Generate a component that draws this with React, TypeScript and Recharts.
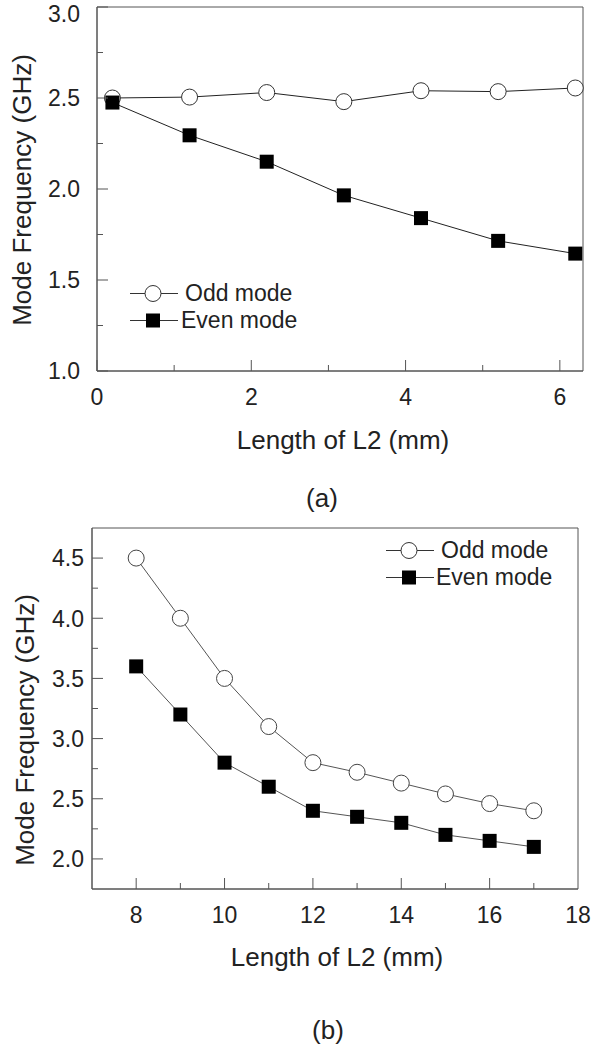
import React from "react"
import { LineChart, Line, XAxis, YAxis, ReferenceArea, Legend } from "recharts"

// (a) mode frequency vs L2, short range
const lengthA = [0.2, 1.2, 2.2, 3.2, 4.2, 5.2, 6.2]
const oddA = [2.5, 2.505, 2.53, 2.48, 2.54, 2.535, 2.555]
const evenA = [2.475, 2.295, 2.15, 1.965, 1.84, 1.715, 1.645]

// (b) mode frequency vs L2, long range
const lengthB = [8, 9, 10, 11, 12, 13, 14, 15, 16, 17]
const oddB = [4.5, 4.0, 3.5, 3.1, 2.8, 2.72, 2.63, 2.54, 2.46, 2.4]
const evenB = [3.6, 3.2, 2.8, 2.6, 2.4, 2.35, 2.3, 2.2, 2.15, 2.1]

const xTicksA = [0, 1, 2, 3, 4, 5, 6]
const yTicksA = [1, 1.25, 1.5, 1.75, 2, 2.25, 2.5, 2.75, 3]
const xTicksB = [8, 9, 10, 11, 12, 13, 14, 15, 16, 17, 18]
const yTicksB = [2, 2.25, 2.5, 2.75, 3, 3.25, 3.5, 3.75, 4, 4.25, 4.5]

const seriesOrder = ["odd", "even"]

const FONT = "'Liberation Sans', Arial, Helvetica, sans-serif"
const TEXT = "#222"
const AXIS = "#555"
const TICK_FONT = 23
const TITLE_FONT = 26

const rowsA = lengthA.map((x, i) => ({ x, odd: oddA[i], even: evenA[i] }))
const rowsB = lengthB.map((x, i) => ({ x, odd: oddB[i], even: evenB[i] }))

const isMajorX = (v: number) => v % 2 === 0
const isMajorY = (v: number) => Math.abs(v * 2 - Math.round(v * 2)) < 1e-6

function XTick(props: any) {
  const { x, y, payload, gap, edge } = props
  const v = payload.value
  const axisY = y - gap
  const major = isMajorX(v)
  return (
    <g>
      {v !== edge && <line x1={x} x2={x} y1={axisY} y2={axisY - (major ? 11 : 6)} stroke={AXIS} />}
      {major && (
        <text x={x} y={y} dy="0.36em" textAnchor="middle" fontSize={TICK_FONT} fill={TEXT} fontFamily={FONT}>
          {v}
        </text>
      )}
    </g>
  )
}

function YTick(props: any) {
  const { x, y, payload, gap } = props
  const v = payload.value
  const axisX = x + gap
  const major = isMajorY(v)
  // keep the top label inside the page
  const ty = Math.max(y, 14)
  return (
    <g>
      <line x1={axisX} x2={axisX + (major ? 11 : 6)} y1={y} y2={y} stroke={AXIS} />
      {major && (
        <text x={x} y={ty} dy="0.36em" textAnchor="end" fontSize={TICK_FONT} fill={TEXT} fontFamily={FONT}>
          {v.toFixed(1)}
        </text>
      )}
    </g>
  )
}

function SquareDot(props: any) {
  const { cx, cy } = props
  if (cx == null || cy == null) return <g />
  return <rect x={cx - 7} y={cy - 7} width={14} height={14} fill="#000" />
}

function ModeLegend(props: any) {
  const { payload = [], textGap = [7, 3] } = props
  const items = [...payload].sort(
    (a: any, b: any) => seriesOrder.indexOf(a.dataKey) - seriesOrder.indexOf(b.dataKey)
  )
  return (
    <div style={{ fontSize: 23, color: TEXT, fontFamily: FONT }}>
      {items.map((p: any, i: number) => (
        <div key={p.value} style={{ display: "flex", alignItems: "center", height: 27 }}>
          <svg width={48} height={27} style={{ display: "block" }}>
            <line x1={0} x2={48} y1={13.5} y2={13.5} stroke="#333" />
            {p.dataKey === "odd" ? (
              <circle cx={23} cy={13.5} r={8} fill="#fff" stroke="#333" />
            ) : (
              <rect x={16} y={6.5} width={14} height={14} fill="#000" />
            )}
          </svg>
          <span style={{ marginLeft: textGap[i] }}>{p.value}</span>
        </div>
      ))}
    </div>
  )
}

function Title({ x, y, text, vertical }: { x: number; y: number; text: string; vertical?: boolean }) {
  return (
    <div
      style={{
        position: "absolute",
        left: x,
        top: y,
        transform: `translate(-50%, -50%)${vertical ? " rotate(-90deg)" : ""}`,
        whiteSpace: "nowrap",
        fontSize: TITLE_FONT,
        color: TEXT,
        fontFamily: FONT,
      }}
    >
      {text}
    </div>
  )
}

export default function App() {
  return (
    <div style={{ position: "absolute", left: 0, top: 0, width: 594, height: 1051, background: "#fff" }}>
      <div style={{ position: "absolute", left: 0, top: 0 }}>
        <LineChart width={594} height={500} data={rowsA} margin={{ top: 7, right: 11, left: 0, bottom: 0 }}>
          <ReferenceArea x1={0} x2={6.3} y1={1} y2={3} fill="none" stroke={AXIS} ifOverflow="visible" />
          <XAxis
            type="number"
            dataKey="x"
            domain={[0, 6.3]}
            ticks={xTicksA}
            interval={0}
            height={129}
            tickSize={0}
            tickMargin={26}
            tickLine={false}
            axisLine={{ stroke: AXIS }}
            tick={(p: any) => <XTick {...p} gap={26} edge={6.3} />}
          />
          <YAxis
            type="number"
            domain={[1, 3]}
            ticks={yTicksA}
            interval={0}
            width={97}
            tickSize={0}
            tickMargin={17}
            tickLine={false}
            axisLine={{ stroke: AXIS }}
            tick={(p: any) => <YTick {...p} gap={17} />}
          />
          <Legend
            layout="vertical"
            align="center"
            verticalAlign="middle"
            wrapperStyle={{ left: 130, top: 280, width: "auto" }}
            content={(p: any) => <ModeLegend {...p} textGap={[7, 3]} />}
          />
          <Line
            type="linear"
            dataKey="odd"
            name="Odd mode"
            stroke="#222"
            strokeWidth={1}
            dot={{ r: 8, fill: "#fff", stroke: "#333", strokeWidth: 1 }}
            isAnimationActive={false}
          />
          <Line
            type="linear"
            dataKey="even"
            name="Even mode"
            stroke="#222"
            strokeWidth={1}
            dot={(p: any) => <SquareDot key={p.index} {...p} />}
            isAnimationActive={false}
          />
        </LineChart>
        <Title x={22} y={190} text="Mode Frequency (GHz)" vertical />
        <Title x={343} y={440} text="Length of L2 (mm)" />
        <Title x={322} y={498} text="(a)" />
      </div>

      <div style={{ position: "absolute", left: 0, top: 520 }}>
        <LineChart width={594} height={480} data={rowsB} margin={{ top: 8, right: 16, left: 0, bottom: 0 }}>
          <ReferenceArea x1={7} x2={18} y1={1.75} y2={4.75} fill="none" stroke={AXIS} ifOverflow="visible" />
          <XAxis
            type="number"
            dataKey="x"
            domain={[7, 18]}
            ticks={xTicksB}
            interval={0}
            height={111}
            tickSize={0}
            tickMargin={26}
            tickLine={false}
            axisLine={{ stroke: AXIS }}
            tick={(p: any) => <XTick {...p} gap={26} edge={18} />}
          />
          <YAxis
            type="number"
            domain={[1.75, 4.75]}
            ticks={yTicksB}
            interval={0}
            width={92}
            tickSize={0}
            tickMargin={8}
            tickLine={false}
            axisLine={{ stroke: AXIS }}
            tick={(p: any) => <YTick {...p} gap={8} />}
          />
          <Legend
            layout="vertical"
            align="center"
            verticalAlign="middle"
            wrapperStyle={{ left: 386, top: 17, width: "auto" }}
            content={(p: any) => <ModeLegend {...p} textGap={[7, 2]} />}
          />
          <Line
            type="linear"
            dataKey="odd"
            name="Odd mode"
            stroke="#555"
            strokeWidth={1}
            dot={{ r: 8, fill: "#fff", stroke: "#444", strokeWidth: 1 }}
            isAnimationActive={false}
          />
          <Line
            type="linear"
            dataKey="even"
            name="Even mode"
            stroke="#555"
            strokeWidth={1}
            dot={(p: any) => <SquareDot key={p.index} {...p} />}
            isAnimationActive={false}
          />
        </LineChart>
        <Title x={25} y={210} text="Mode Frequency (GHz)" vertical />
        <Title x={337} y={437} text="Length of L2 (mm)" />
        <Title x={328} y={510} text="(b)" />
      </div>
    </div>
  )
}
